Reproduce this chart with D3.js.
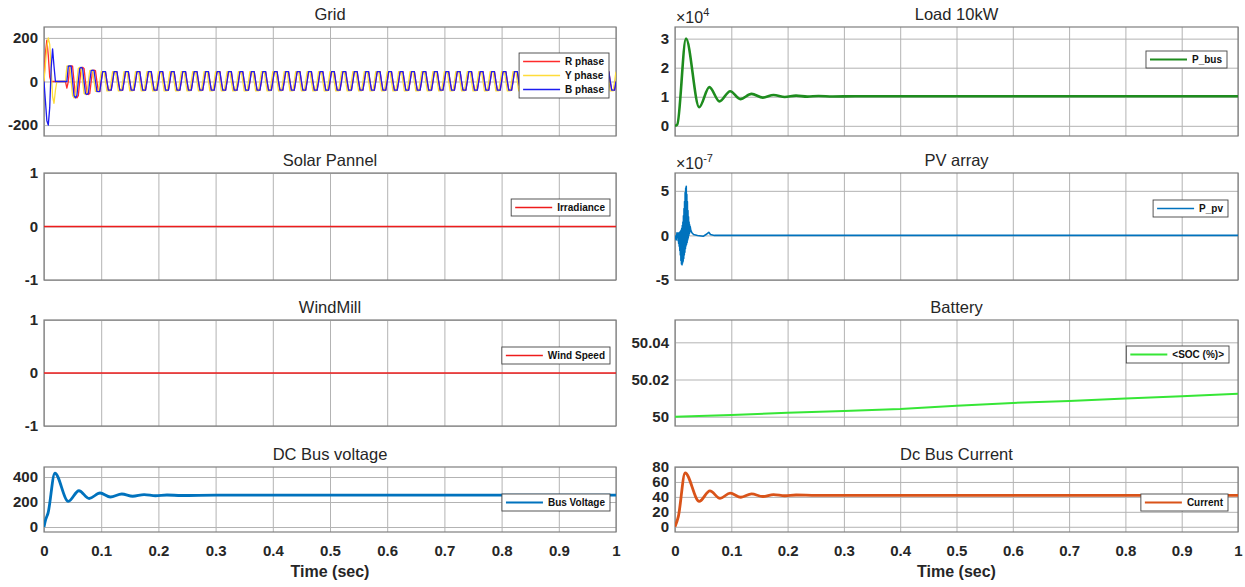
<!DOCTYPE html>
<html><head><meta charset="utf-8">
<script src="https://cdn.jsdelivr.net/npm/d3@7"></script>
<style>
html,body{margin:0;padding:0;background:#fff;}
svg{display:block;font-family:"Liberation Sans",Arial,Helvetica,sans-serif;}
</style></head><body>
<svg id="chart" width="1245" height="587"></svg>
<script>
// ================= DATA =================
const timeTicks = [0,0.1,0.2,0.3,0.4,0.5,0.6,0.7,0.8,0.9,1];
const timeTickLabels = ["0","0.1","0.2","0.3","0.4","0.5","0.6","0.7","0.8","0.9","1"];

// Grid phase currents, one sample every gridStep seconds (0 .. 1 s)
const gridStep = 0.0025;
const gridR = [
0,130,190,120,20,0,0,0, 0,0,0,0,0,0,0,0,
-30,0,70,72,70,0,-65,-75, -65,0,60,65,60,0,-55,-60, -55,0,50,52,50,0,-45,-46,
0,45,45,45,0,-40,-40,-40, 0,45,45,45,0,-40,-40,-40, 0,45,45,45,0,-40,-40,-40, 0,45,45,45,0,-40,-40,-40, 0,45,45,45,0,-40,-40,-40,
0,45,45,45,0,-40,-40,-40, 0,45,45,45,0,-40,-40,-40, 0,45,45,45,0,-40,-40,-40, 0,45,45,45,0,-40,-40,-40, 0,45,45,45,0,-40,-40,-40,
0,45,45,45,0,-40,-40,-40, 0,45,45,45,0,-40,-40,-40, 0,45,45,45,0,-40,-40,-40, 0,45,45,45,0,-40,-40,-40, 0,45,45,45,0,-40,-40,-40,
0,45,45,45,0,-40,-40,-40, 0,45,45,45,0,-40,-40,-40, 0,45,45,45,0,-40,-40,-40, 0,45,45,45,0,-40,-40,-40, 0,45,45,45,0,-40,-40,-40,
0,45,45,45,0,-40,-40,-40, 0,45,45,45,0,-40,-40,-40, 0,45,45,45,0,-40,-40,-40, 0,45,45,45,0,-40,-40,-40, 0,45,45,45,0,-40,-40,-40,
0,45,45,45,0,-40,-40,-40, 0,45,45,45,0,-40,-40,-40, 0,45,45,45,0,-40,-40,-40, 0,45,45,45,0,-40,-40,-40, 0,45,45,45,0,-40,-40,-40,
0,45,45,45,0,-40,-40,-40, 0,45,45,45,0,-40,-40,-40, 0,45,45,45,0,-40,-40,-40, 0,45,45,45,0,-40,-40,-40, 0,45,45,45,0,-40,-40,-40,
0,45,45,45,0,-40,-40,-40, 0,45,45,45,0,-40,-40,-40, 0,45,45,45,0,-40,-40,-40, 0,45,45,45,0,-40,-40,-40, 0,45,45,45,0,-40,-40,-40,
0,45,45,45,0,-40,-40,-40, 0,45,45,45,0,-40,-40,-40, 0,45,45,45,0,-40,-40,-40, 0,45,45,45,0,-40,-40,-40, 0,45,45,45,0,-40,-40,-40,
0
];
const gridY = [
0,80,160,200,170,60,-70,-100, -40,0,0,0,0,0,0,0,
70,72,70,0,-65,-75,-65,0, 60,65,60,0,-55,-60,-55,0, 50,52,50,0,-45,-46,-45,0,
45,45,45,0,-43,-43,-43,0, 45,45,45,0,-43,-43,-43,0, 45,45,45,0,-43,-43,-43,0, 45,45,45,0,-43,-43,-43,0, 45,45,45,0,-43,-43,-43,0,
45,45,45,0,-43,-43,-43,0, 45,45,45,0,-43,-43,-43,0, 45,45,45,0,-43,-43,-43,0, 45,45,45,0,-43,-43,-43,0, 45,45,45,0,-43,-43,-43,0,
45,45,45,0,-43,-43,-43,0, 45,45,45,0,-43,-43,-43,0, 45,45,45,0,-43,-43,-43,0, 45,45,45,0,-43,-43,-43,0, 45,45,45,0,-43,-43,-43,0,
45,45,45,0,-43,-43,-43,0, 45,45,45,0,-43,-43,-43,0, 45,45,45,0,-43,-43,-43,0, 45,45,45,0,-43,-43,-43,0, 45,45,45,0,-43,-43,-43,0,
45,45,45,0,-43,-43,-43,0, 45,45,45,0,-43,-43,-43,0, 45,45,45,0,-43,-43,-43,0, 45,45,45,0,-43,-43,-43,0, 45,45,45,0,-43,-43,-43,0,
45,45,45,0,-43,-43,-43,0, 45,45,45,0,-43,-43,-43,0, 45,45,45,0,-43,-43,-43,0, 45,45,45,0,-43,-43,-43,0, 45,45,45,0,-43,-43,-43,0,
45,45,45,0,-43,-43,-43,0, 45,45,45,0,-43,-43,-43,0, 45,45,45,0,-43,-43,-43,0, 45,45,45,0,-43,-43,-43,0, 45,45,45,0,-43,-43,-43,0,
45,45,45,0,-43,-43,-43,0, 45,45,45,0,-43,-43,-43,0, 45,45,45,0,-43,-43,-43,0, 45,45,45,0,-43,-43,-43,0, 45,45,45,0,-43,-43,-43,0,
45,45,45,0,-43,-43,-43,0, 45,45,45,0,-43,-43,-43,0, 45,45,45,0,-43,-43,-43,0, 45,45,45,0,-43,-43,-43,0, 45,45,45,0,-43,-43,-43,0,
45
];
const gridB = [
0,-90,-180,-200,-120,60,150,70, 0,0,0,0,0,0,0,0,
0,70,72,70,0,-65,-75,-65, 0,60,65,60,0,-55,-60,-55, 0,50,52,50,0,-45,-46,-45,
0,45,45,45,0,-40,-40,-40, 0,45,45,45,0,-40,-40,-40, 0,45,45,45,0,-40,-40,-40, 0,45,45,45,0,-40,-40,-40, 0,45,45,45,0,-40,-40,-40,
0,45,45,45,0,-40,-40,-40, 0,45,45,45,0,-40,-40,-40, 0,45,45,45,0,-40,-40,-40, 0,45,45,45,0,-40,-40,-40, 0,45,45,45,0,-40,-40,-40,
0,45,45,45,0,-40,-40,-40, 0,45,45,45,0,-40,-40,-40, 0,45,45,45,0,-40,-40,-40, 0,45,45,45,0,-40,-40,-40, 0,45,45,45,0,-40,-40,-40,
0,45,45,45,0,-40,-40,-40, 0,45,45,45,0,-40,-40,-40, 0,45,45,45,0,-40,-40,-40, 0,45,45,45,0,-40,-40,-40, 0,45,45,45,0,-40,-40,-40,
0,45,45,45,0,-40,-40,-40, 0,45,45,45,0,-40,-40,-40, 0,45,45,45,0,-40,-40,-40, 0,45,45,45,0,-40,-40,-40, 0,45,45,45,0,-40,-40,-40,
0,45,45,45,0,-40,-40,-40, 0,45,45,45,0,-40,-40,-40, 0,45,45,45,0,-40,-40,-40, 0,45,45,45,0,-40,-40,-40, 0,45,45,45,0,-40,-40,-40,
0,45,45,45,0,-40,-40,-40, 0,45,45,45,0,-40,-40,-40, 0,45,45,45,0,-40,-40,-40, 0,45,45,45,0,-40,-40,-40, 0,45,45,45,0,-40,-40,-40,
0,45,45,45,0,-40,-40,-40, 0,45,45,45,0,-40,-40,-40, 0,45,45,45,0,-40,-40,-40, 0,45,45,45,0,-40,-40,-40, 0,45,45,45,0,-40,-40,-40,
0,45,45,45,0,-40,-40,-40, 0,45,45,45,0,-40,-40,-40, 0,45,45,45,0,-40,-40,-40, 0,45,45,45,0,-40,-40,-40, 0,45,45,45,0,-40,-40,-40,
0
];
const gridTicks = [-200,0,200];

// Load power P_bus (W), [time, value]
const loadPoints = [[0,0],[0.004,400],[0.0195,30000],[0.043,6400],[0.061,13300],[0.079,8400],[0.098,11900],
  [0.116,9200],[0.136,11000],[0.156,9700],[0.175,10600],[0.195,9900],[0.215,10400],[0.235,10050],[0.255,10250],
  [0.28,10100],[0.32,10180],[0.4,10150],[0.6,10150],[0.8,10150],[1,10150]];
const loadTicks = [0,10000,20000,30000];

// Solar irradiance and wind speed
const irradiance = [[0,0],[1,0]];
const windSpeed = [[0,0],[1,0]];
const unitTicks = [-1,0,1];

// PV array power, in units of 1e-7
const pvPoints = [[0,0],[0.002,-0.5],[0.0035,0.3],
  [0.005,0.2],[0.0055,-0.6],[0.006,0.2],[0.0065,-0.9],[0.007,0.3],[0.0075,-1.2],[0.008,0.3],[0.0085,-1.7],
  [0.009,0.4],[0.0095,-2.2],[0.010,0.5],[0.0105,-2.8],[0.011,0.6],[0.0115,-3.2],[0.012,0.8],[0.0125,-3.3],
  [0.013,1.1],[0.0135,-3.1],[0.014,1.5],[0.0145,-2.9],[0.015,2.2],[0.0155,-2.6],[0.016,3.0],[0.0165,-2.2],
  [0.017,3.8],[0.0175,-1.9],[0.018,4.8],[0.0185,-1.5],[0.019,5.3],[0.0195,-1.2],[0.020,5.5],[0.0205,-1.0],
  [0.021,4.6],[0.0215,-0.8],[0.022,3.8],[0.0225,-0.5],[0.023,2.8],[0.0235,-0.3],[0.024,2.1],[0.0245,0],
  [0.025,1.5],[0.0255,0.2],[0.026,1.2],[0.0265,0.4],[0.027,1.0],[0.028,0.6],[0.030,0.3],[0.033,0.1],
  [0.040,0],[0.050,-0.1],[0.055,0.1],[0.060,0.35],[0.063,0.1],[0.070,0],[1,0]];
const pvTicks = [-5,0,5];

// Battery state of charge (%)
const socPoints = [[0,50.0000],[0.1,50.0009],[0.2,50.0021],[0.3,50.0030],[0.4,50.0041],[0.5,50.0059],
  [0.6,50.0074],[0.7,50.0085],[0.8,50.0098],[0.9,50.0110],[1.0,50.0124]];
const socTicks = [50,50.02,50.04];

// DC bus voltage (V)
const busVoltage = [[0,0],[0.003,60],[0.007,110],[0.019,430],[0.0425,205],[0.061,290],[0.079,228],[0.098,272],
  [0.116,240],[0.136,264],[0.155,246],[0.175,259],[0.195,250],[0.215,256],[0.24,252],[0.3,255],[0.6,255],[1,255]];
const voltTicks = [0,200,400];

// DC bus current (A)
const busCurrent = [[0,0],[0.006,14],[0.018,72],[0.043,34],[0.062,48],[0.08,38],[0.098,45],[0.117,39.5],
  [0.136,44],[0.156,40.5],[0.175,43],[0.195,41.5],[0.215,42.5],[0.25,42],[0.6,42],[1,42]];
const currentTicks = [0,20,40,60,80];

// ================= LAYOUT =================
const cols = {L:{x0:44,x1:616}, R:{x0:675,x1:1238}};
const rows = [{top:27,bottom:136},{top:173,bottom:280},{top:320,bottom:426},{top:467,bottom:532}];
const toPts = arr => arr.map((v,i)=>[i*gridStep, v]);
const mono = d3.curveMonotoneX;

const panels = [
  {col:"L",row:0,title:"Grid",yDomain:[-250,250],yTicks:gridTicks,fmt:d=>String(d),
    series:[{name:"R phase",pts:toPts(gridR),color:"#ff2b2b",width:1.3},
            {name:"Y phase",pts:toPts(gridY),color:"#ffdc3a",width:1.3},
            {name:"B phase",pts:toPts(gridB),color:"#1c1cf0",width:1.3}],
    legend:{right:7,top:26}},
  {col:"R",row:0,title:"Load 10kW",yDomain:[-3500,34000],yTicks:loadTicks,fmt:d=>String(d/1e4),exp:"4",
    series:[{name:"P_bus",pts:loadPoints,color:"#1e8c1e",width:2.6,curve:mono}],legend:{right:11,top:24}},
  {col:"L",row:1,title:"Solar Pannel",yDomain:[-1,1],yTicks:unitTicks,fmt:d=>String(d),
    series:[{name:"Irradiance",pts:irradiance,color:"#ee1c1c",width:1.7}],legend:{right:6,top:26}},
  {col:"R",row:1,title:"PV array",yDomain:[-5,7],yTicks:pvTicks,fmt:d=>String(d),exp:"-7",
    series:[{name:"P_pv",pts:pvPoints,color:"#0072bd",width:1.6}],legend:{right:10,top:27}},
  {col:"L",row:2,title:"WindMill",yDomain:[-1,1],yTicks:unitTicks,fmt:d=>String(d),
    series:[{name:"Wind Speed",pts:windSpeed,color:"#ee1c1c",width:1.7}],legend:{right:6,top:27}},
  {col:"R",row:2,title:"Battery",yDomain:[49.995,50.052],yTicks:socTicks,fmt:d=>d===50?"50":d.toFixed(2),
    series:[{name:"<SOC (%)>",pts:socPoints,color:"#36e636",width:2}],legend:{right:9,top:26}},
  {col:"L",row:3,title:"DC Bus voltage",yDomain:[-40,480],yTicks:voltTicks,fmt:d=>String(d),
    series:[{name:"Bus Voltage",pts:busVoltage,color:"#0072bd",width:2.8,curve:mono}],legend:{right:6,top:27}},
  {col:"R",row:3,title:"Dc Bus Current",yDomain:[-7,80],yTicks:currentTicks,fmt:d=>String(d),
    series:[{name:"Current",pts:busCurrent,color:"#d95319",width:2.8,curve:mono}],legend:{right:10,top:27}}
];

const svg = d3.select("#chart");
const defs = svg.append("defs");
const TXT = "#262626";

panels.forEach((p,pi)=>{
  const c = cols[p.col], r = rows[p.row];
  const x = d3.scaleLinear().domain([0,1]).range([c.x0,c.x1]);
  const y = d3.scaleLinear().domain(p.yDomain).range([r.bottom,r.top]);
  const g = svg.append("g");
  const w = c.x1-c.x0, h = r.bottom-r.top;

  defs.append("clipPath").attr("id","clip"+pi).append("rect")
    .attr("x",c.x0).attr("y",r.top).attr("width",w).attr("height",h);

  // grid lines
  g.append("g").attr("transform",`translate(0,${r.bottom})`)
    .call(d3.axisBottom(x).tickValues(timeTicks).tickSize(-h).tickFormat(""))
    .call(s=>{s.select(".domain").remove(); s.selectAll("line").attr("stroke","#b3b3b3").attr("stroke-width",1);});
  g.append("g").attr("transform",`translate(${c.x0},0)`)
    .call(d3.axisLeft(y).tickValues(p.yTicks).tickSize(-w).tickFormat(""))
    .call(s=>{s.select(".domain").remove(); s.selectAll("line").attr("stroke","#b3b3b3").attr("stroke-width",1);});

  // box
  g.append("rect").attr("x",c.x0).attr("y",r.top).attr("width",w).attr("height",h)
    .attr("fill","none").attr("stroke","#7f7f7f").attr("stroke-width",1.2);

  // series
  const lg = g.append("g").attr("clip-path",`url(#clip${pi})`);
  p.series.forEach(s=>{
    const line = d3.line().x(d=>x(d[0])).y(d=>y(d[1])).curve(s.curve||d3.curveLinear);
    lg.append("path").attr("d",line(s.pts)).attr("fill","none")
      .attr("stroke",s.color).attr("stroke-width",s.width).attr("stroke-linejoin","round");
  });

  // y tick labels
  g.append("g").attr("transform",`translate(${c.x0},0)`)
    .call(d3.axisLeft(y).tickValues(p.yTicks).tickFormat(p.fmt).tickSize(0).tickPadding(6))
    .call(s=>{s.select(".domain").remove();
      s.selectAll("text").attr("font-size",15).attr("font-weight","bold").attr("fill",TXT)
       .attr("font-family",'"Liberation Sans",Arial,sans-serif');});

  // x tick labels (bottom row only)
  if (p.row===3){
    g.append("g").attr("transform",`translate(0,${r.bottom})`)
      .call(d3.axisBottom(x).tickValues(timeTicks).tickFormat((d,i)=>timeTickLabels[i]).tickSize(0).tickPadding(13))
      .call(s=>{s.select(".domain").remove();
        s.selectAll("text").attr("font-size",15).attr("font-weight","bold").attr("fill",TXT)
         .attr("font-family",'"Liberation Sans",Arial,sans-serif');});
    g.append("text").attr("x",(c.x0+c.x1)/2).attr("y",577).attr("text-anchor","middle")
      .attr("font-size",16).attr("font-weight","bold").attr("fill",TXT).text("Time (sec)");
  }

  // title
  g.append("text").attr("x",(c.x0+c.x1)/2).attr("y",r.top-7).attr("text-anchor","middle")
    .attr("font-size",16.5).attr("fill",TXT).text(p.title);

  // exponent
  if (p.exp){
    const t = g.append("text").attr("x",c.x0+1).attr("y",r.top-4.5).attr("font-size",16).attr("fill",TXT);
    t.append("tspan").text("\u00d710");
    t.append("tspan").attr("font-size",11).attr("dy",-7).text(p.exp);
  }

  // legend
  const L = g.append("g");
  const rowH = 14;
  const box = L.append("rect").attr("fill","#fff").attr("stroke","#444").attr("stroke-width",0.9);
  const texts = [];
  p.series.forEach((s,i)=>{
    L.append("line").attr("class","lgline").attr("stroke",s.color).attr("stroke-width",Math.min(s.width,2))
      .datum(i);
    texts.push(L.append("text").attr("font-size",10).attr("font-weight","bold").attr("fill","#111").text(s.name));
  });
  const maxW = d3.max(texts, t=>t.node().getComputedTextLength());
  const bw = 46 + maxW + 5, bh = rowH*p.series.length + 3;
  const bx = c.x1 - p.legend.right - bw, by = r.top + p.legend.top;
  box.attr("x",bx).attr("y",by).attr("width",bw).attr("height",bh);
  L.selectAll(".lgline").each(function(i){
    const cy = by + 1.5 + rowH*i + rowH/2;
    d3.select(this).attr("x1",bx+4).attr("x2",bx+41).attr("y1",cy).attr("y2",cy);
  });
  texts.forEach((t,i)=>{
    const cy = by + 1.5 + rowH*i + rowH/2;
    t.attr("x",bx+46).attr("y",cy+3.6);
  });
});
</script>
</body></html>
